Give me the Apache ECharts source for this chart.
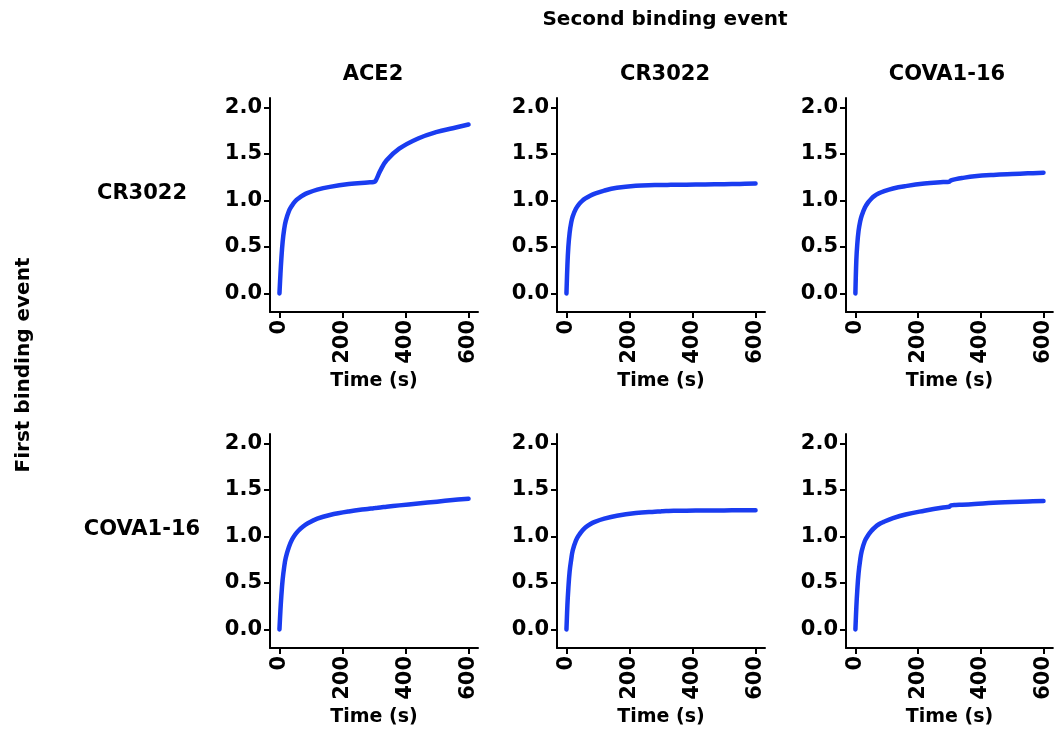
<!DOCTYPE html>
<html>
<head>
<meta charset="utf-8">
<script src="https://cdn.jsdelivr.net/npm/echarts@6/dist/echarts.min.js"></script>
<style>
html,body{margin:0;padding:0;background:#fff;}
#chart{width:1054px;height:736px;}
</style>
</head>
<body>
<div id="chart"></div>
<script>
// ---- data ----
const secondEvents = ['ACE2', 'CR3022', 'COVA1-16'];   // columns
const firstEvents = ['CR3022', 'COVA1-16'];            // rows
const xTicks = [0, 200, 400, 600];
const yTicks = [0, 0.5, 1.0, 1.5, 2.0];
const timeSec = [0, 3, 6, 10, 15, 20, 30, 40, 50, 60, 75, 90, 120, 160, 220, 280, 299, 305, 320, 340, 380, 440, 500, 550, 600];
// row 1: first = CR3022
const cr3022_ace2    = [0, 0.20, 0.37, 0.55, 0.69, 0.78, 0.885, 0.945, 0.99, 1.02, 1.055, 1.08, 1.115, 1.145, 1.175, 1.193, 1.198, 1.21, 1.32, 1.43, 1.555, 1.665, 1.735, 1.775, 1.815];
const cr3022_cr3022  = [0, 0.30, 0.50, 0.65, 0.76, 0.83, 0.91, 0.96, 0.995, 1.02, 1.05, 1.072, 1.105, 1.135, 1.157, 1.165, 1.166, 1.166, 1.166, 1.167, 1.168, 1.171, 1.174, 1.177, 1.18];
const cr3022_cova116 = [0, 0.36, 0.53, 0.67, 0.77, 0.835, 0.92, 0.975, 1.015, 1.045, 1.075, 1.097, 1.128, 1.153, 1.18, 1.196, 1.20, 1.215, 1.228, 1.24, 1.258, 1.273, 1.283, 1.29, 1.297];
// row 2: first = COVA1-16
const cova116_ace2    = [0, 0.20, 0.36, 0.53, 0.67, 0.77, 0.885, 0.965, 1.02, 1.06, 1.105, 1.14, 1.19, 1.23, 1.268, 1.295, 1.302, 1.305, 1.31, 1.318, 1.333, 1.353, 1.373, 1.39, 1.405];
const cova116_cr3022  = [0, 0.26, 0.44, 0.62, 0.75, 0.85, 0.955, 1.015, 1.06, 1.095, 1.13, 1.155, 1.19, 1.222, 1.25, 1.265, 1.268, 1.27, 1.272, 1.274, 1.276, 1.278, 1.279, 1.28, 1.281];
const cova116_cova116 = [0, 0.24, 0.42, 0.60, 0.74, 0.84, 0.95, 1.01, 1.055, 1.09, 1.13, 1.155, 1.195, 1.235, 1.275, 1.31, 1.318, 1.333, 1.337, 1.34, 1.347, 1.36, 1.368, 1.375, 1.38];

const panelValues = [
  [cr3022_ace2, cr3022_cr3022, cr3022_cova116],
  [cova116_ace2, cova116_cr3022, cova116_cova116]
];

// ---- layout ----
const FONT = 'DejaVu Sans';
const colLeft = [270, 557, 846];
const rowTop = [98, 434];
const gridW = 208, gridH = 214;
const lineColor = '#1a3cf0';

const grids = [], xAxes = [], yAxes = [], series = [];
let idx = 0;
for (let r = 0; r < 2; r++) {
  for (let c = 0; c < 3; c++) {
    grids.push({left: colLeft[c], top: rowTop[r], width: gridW, height: gridH, containLabel: false});
    xAxes.push({
      type: 'value', gridIndex: idx, min: -30, max: 630,
      name: 'Time (s)', nameLocation: 'middle', nameGap: 60,
      nameTextStyle: {fontFamily: FONT, fontWeight: 'bold', fontSize: 19, color: '#000'},
      axisLine: {show: true, onZero: false, lineStyle: {color: '#000', width: 2}},
      axisTick: {show: true, length: 6, customValues: xTicks, lineStyle: {color: '#000', width: 2}},
      axisLabel: {customValues: xTicks, rotate: 90, margin: 8, fontFamily: FONT, fontWeight: 'bold', fontSize: 21, color: '#000'},
      splitLine: {show: false}
    });
    yAxes.push({
      type: 'value', gridIndex: idx, min: -0.2, max: 2.1,
      axisLine: {show: true, onZero: false, lineStyle: {color: '#000', width: 2}},
      axisTick: {show: true, length: 6, customValues: yTicks, lineStyle: {color: '#000', width: 2}},
      axisLabel: {customValues: yTicks, margin: 8, fontFamily: FONT, fontWeight: 'bold', fontSize: 21, color: '#000',
                  formatter: v => v.toFixed(1)},
      splitLine: {show: false}
    });
    const vals = panelValues[r][c];
    series.push({
      type: 'line', xAxisIndex: idx, yAxisIndex: idx,
      data: timeSec.map((t, i) => [t, vals[i]]),
      showSymbol: false, smooth: 0.4,
      lineStyle: {color: lineColor, width: 4.5, cap: 'round', join: 'round'},
      silent: true
    });
    idx++;
  }
}

const txt = (x, y, s, size, extra) => Object.assign({
  type: 'text', x: x, y: y,
  style: {text: s, fontFamily: FONT, fontWeight: 'bold', fontSize: size, fill: '#000', align: 'center', verticalAlign: 'middle'}
}, extra || {});

const colCenters = [373, 665, 947];
const graphics = [
  txt(665, 20, 'Second binding event', 20),
  txt(24, 365, 'First binding event', 20, {rotation: Math.PI / 2}),
];
secondEvents.forEach((s, i) => graphics.push(txt(colCenters[i], 75, s, 21)));
const rowCenters = [194, 530];
firstEvents.forEach((s, i) => graphics.push(txt(142, rowCenters[i], s, 21)));

const chart = echarts.init(document.getElementById('chart'), null, {renderer: 'canvas'});
chart.setOption({
  animation: false,
  backgroundColor: '#fff',
  grid: grids, xAxis: xAxes, yAxis: yAxes, series: series,
  graphic: graphics
});
</script>
</body>
</html>
